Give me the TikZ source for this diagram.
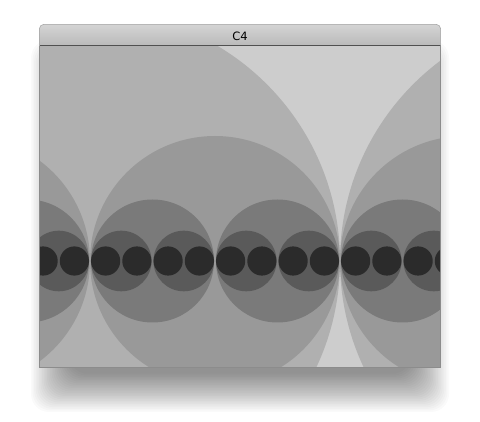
\documentclass[tikz,border=0pt]{standalone}
\usepackage{fontspec}
\newfontfamily\titlefont{DejaVu Sans}
\definecolor{bgl}{HTML}{CDCDCD}
\definecolor{cl6}{HTML}{B0B0B0}
\definecolor{cl5}{HTML}{999999}
\definecolor{cl4}{HTML}{7A7A7A}
\definecolor{cl3}{HTML}{5A5A5A}
\definecolor{cl2}{HTML}{2B2B2B}
\definecolor{tbtop}{HTML}{D4D4D4}
\definecolor{tbbot}{HTML}{A8A8A8}
\definecolor{frame}{HTML}{8C8C8C}
\begin{document}
\begin{tikzpicture}[x=1pt,y=-1pt,
  shadowlayer/.style={fill=black,fill opacity=0.018,rounded corners=18pt}]
\useasboundingbox (0,0) rectangle (480,422);
\fill[white] (0,0) rectangle (480,422);
% shadow
\foreach \i in {0,...,24}{
  \fill[shadowlayer] ({31+1.6*\i},{40+1.6*\i}) rectangle ({449-1.6*\i},{412-1.6*\i});
}
% title bar
\shade[top color=tbtop,bottom color=tbbot,rounded corners=4pt]
  (39.5,24.5) rectangle (440.5,60);
\node[font=\titlefont\fontsize{11.5}{13}\selectfont,text=black] (title) at (240,36) {C4};
% content
\begin{scope}
  \clip (39.5,46.5) rectangle (440.5,367);
  \fill[bgl] (39.5,46.5) rectangle (440.5,367);
  \foreach \c in {90,590}{\fill[cl6] (\c,261) circle[radius=250pt];}
  \foreach \c in {-35,215,465}{\fill[cl5] (\c,261) circle[radius=125pt];}
  \foreach \c in {27.5,152.5,277.5,402.5}{\fill[cl4] (\c,261) circle[radius=61.5pt];}
  \foreach \c in {27.5,152.5,277.5,402.5}{
    \foreach \s in {-1,1}{
      \fill[cl3] ({\c+\s*31.25},261) circle[radius=30.3pt];
    }
  }
  \foreach \c in {27.5,152.5,277.5,402.5}{
    \foreach \s in {-1,1}{
      \foreach \t in {-1,1}{
        \fill[cl2] ({\c+\s*31.25+\t*15.625},261) circle[radius=14.6pt];
      }
    }
  }
\end{scope}
% separator line and frame
\draw[color={rgb,255:red,80;green,80;blue,80},line width=1pt] (39.5,46) -- (440.5,46);
\draw[frame,line width=0.7pt] (39.5,46) -- (39.5,367) -- (440.5,367) -- (440.5,46);
\draw[color={rgb,255:red,160;green,160;blue,160},line width=0.5pt,rounded corners=4pt]
  (39.5,46) -- (39.5,24.5) -- (440.5,24.5) -- (440.5,46);
\end{tikzpicture}
\end{document}
